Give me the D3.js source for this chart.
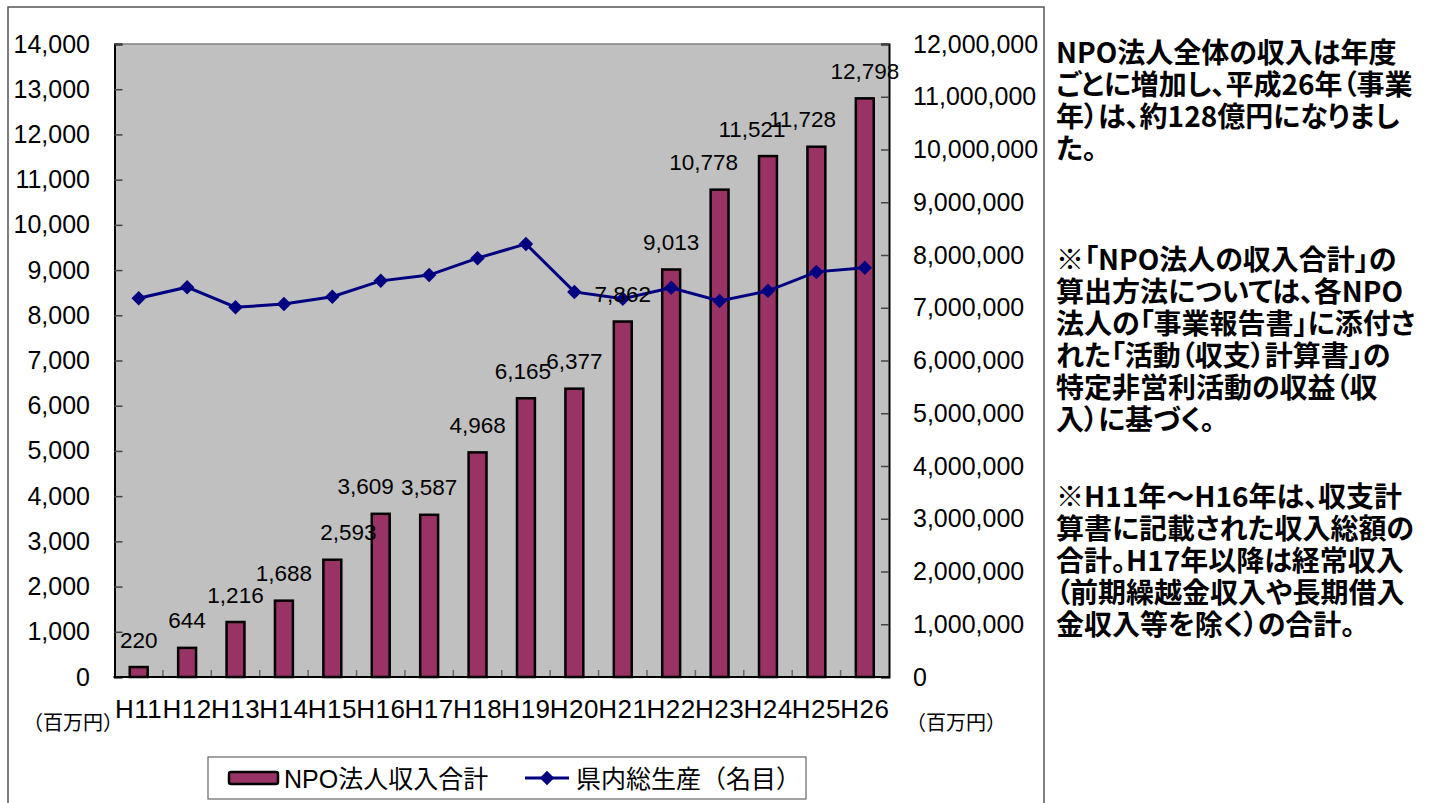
<!DOCTYPE html>
<html>
<head>
<meta charset="utf-8">
<script src="https://cdn.jsdelivr.net/npm/d3@7"></script>
<style>
  body { margin: 0; background: #fff; }
  svg { display: block; }
  .num { font-family: "Liberation Sans", Arial, sans-serif; fill: #000; }
  .jp { font-family: "Liberation Sans", "Noto Sans CJK JP", sans-serif; fill: #000; }
  .note { font-family: "Noto Sans CJK JP", sans-serif; font-weight: bold; font-feature-settings: "palt"; fill: #000; }
</style>
</head>
<body>
<svg width="1444" height="803"></svg>
<script>
// データ
const categories = ["H11","H12","H13","H14","H15","H16","H17","H18","H19","H20","H21","H22","H23","H24","H25","H26"];
const npoIncome = [220, 644, 1216, 1688, 2593, 3609, 3587, 4968, 6165, 6377, 7862, 9013, 10778, 11521, 11728, 12798];
const gdp = [7180000, 7390000, 7010000, 7070000, 7210000, 7510000, 7620000, 7940000, 8210000, 7300000, 7170000, 7380000, 7130000, 7320000, 7680000, 7760000];
const leftTicks = [0,1000,2000,3000,4000,5000,6000,7000,8000,9000,10000,11000,12000,13000,14000];
const rightTicks = [0,1000000,2000000,3000000,4000000,5000000,6000000,7000000,8000000,9000000,10000000,11000000,12000000];
const seriesNames = ["NPO法人収入合計", "県内総生産（名目）"];
const unitLabel = "（百万円）";
const notes = [
  ["NPO法人全体の収入は年度", "ごとに増加し、平成26年（事業", "年）は、約128億円になりまし", "た。"],
  ["※「NPO法人の収入合計」の", "算出方法については、各NPO", "法人の「事業報告書」に添付さ", "れた「活動（収支）計算書」の", "特定非営利活動の収益（収", "入）に基づく。"],
  ["※H11年～H16年は、収支計", "算書に記載された収入総額の", "合計。H17年以降は経常収入", "（前期繰越金収入や長期借入", "金収入等を除く）の合計。"]
];
const noteTops = [63, 270, 507];
// ラベルの手動ずらし（元図に合わせる）
const labelShift = [0, 0, 0, 0, 16, -15, 0, 0, -3, 0, 0, 0, -16, -16, -14, 0];

const barColor = "#993366", lineColor = "#000080";
const svg = d3.select("svg");

// 外枠
svg.append("path")
  .attr("d", "M8,810V7H1044V810")
  .attr("fill", "none").attr("stroke", "#555").attr("stroke-width", 1.5);

// プロット領域
const plot = {left: 114.5, right: 889, top: 44, bottom: 677};
const x = d3.scaleBand().domain(categories).range([plot.left, plot.right]).padding(0);
const y = d3.scaleLinear().domain([0, 14000]).range([plot.bottom, plot.top]);
const y2 = d3.scaleLinear().domain([0, 12000000]).range([plot.bottom, plot.top]);

svg.append("rect")
  .attr("x", plot.left).attr("y", plot.top)
  .attr("width", plot.right - plot.left).attr("height", plot.bottom - plot.top)
  .attr("fill", "#c0c0c0");
svg.append("line")
  .attr("x1", plot.left).attr("x2", plot.right).attr("y1", plot.top).attr("y2", plot.top)
  .attr("stroke", "#808080").attr("stroke-width", 1.5);

// 左軸
const gl = svg.append("g").attr("transform", `translate(${plot.left},0)`)
  .call(d3.axisLeft(y).tickValues(leftTicks).tickSize(-8).tickPadding(24.5).tickFormat(d3.format(",")));
// 右軸
const gr = svg.append("g").attr("transform", `translate(${plot.right},0)`)
  .call(d3.axisRight(y2).tickValues(rightTicks).tickSize(-8).tickPadding(24).tickFormat(d3.format(",")));
[gl, gr].forEach(g => {
  g.select(".domain").attr("stroke", "#000").attr("stroke-width", 2);
  g.selectAll(".tick line").attr("stroke", "#444").attr("stroke-width", 1.5);
  g.selectAll(".tick text").attr("class", "num").style("font-size", "25px").attr("fill", "#000");
});

// 棒
const barW = x.bandwidth() * 0.37;
svg.append("g").selectAll("rect")
  .data(npoIncome)
  .join("rect")
  .attr("x", (d, i) => x(categories[i]) + (x.bandwidth() - barW) / 2)
  .attr("y", d => y(d))
  .attr("width", barW)
  .attr("height", d => y(0) - y(d))
  .attr("fill", barColor)
  .attr("stroke", "#000").attr("stroke-width", 2.5);

// 下軸
const gb = svg.append("g").attr("transform", `translate(0,${plot.bottom})`)
  .call(d3.axisBottom(x).tickSize(0).tickPadding(23));
gb.select(".domain").remove();
gb.selectAll(".tick text").attr("class", "num").style("font-size", "26px")
  .style("letter-spacing", "0.5px").attr("fill", "#000");
// 区切り目盛
svg.append("g").selectAll("line")
  .data(categories.slice(1))
  .join("line")
  .attr("x1", d => x(d)).attr("x2", d => x(d))
  .attr("y1", plot.bottom).attr("y2", plot.bottom - 7)
  .attr("stroke", "#666").attr("stroke-width", 1.5);
svg.append("line")
  .attr("x1", plot.left - 1).attr("x2", plot.right + 1).attr("y1", plot.bottom).attr("y2", plot.bottom)
  .attr("stroke", "#000").attr("stroke-width", 2);

// 折れ線
const cx = c => x(c) + x.bandwidth() / 2;
svg.append("path")
  .datum(gdp)
  .attr("d", d3.line().x((d, i) => cx(categories[i])).y(d => y2(d)))
  .attr("fill", "none").attr("stroke", lineColor).attr("stroke-width", 3);
const diamond = d3.symbol(d3.symbolSquare, 105);
svg.append("g").selectAll("path")
  .data(gdp)
  .join("path")
  .attr("d", diamond)
  .attr("transform", (d, i) => `translate(${cx(categories[i])},${y2(d)}) rotate(45)`)
  .attr("fill", lineColor);

// データラベル
svg.append("g").selectAll("text")
  .data(npoIncome)
  .join("text")
  .attr("class", "num")
  .attr("x", (d, i) => cx(categories[i]) + labelShift[i])
  .attr("y", d => y(d) - 19.5)
  .attr("text-anchor", "middle")
  .style("font-size", "22.5px")
  .text(d3.format(","));

// 単位
[73, 956].forEach(ux => {
  svg.append("text").attr("class", "jp")
    .attr("x", ux).attr("y", 730).attr("text-anchor", "middle")
    .style("font-size", "20px").text(unitLabel);
});

// 凡例
const lg = svg.append("g");
lg.append("rect").attr("x", 208).attr("y", 757).attr("width", 598).attr("height", 42)
  .attr("fill", "#fff").attr("stroke", "#666").attr("stroke-width", 1.2);
lg.append("rect").attr("x", 229).attr("y", 772).attr("width", 49).attr("height", 12).attr("rx", 2)
  .attr("fill", barColor).attr("stroke", "#000").attr("stroke-width", 2.5);
lg.append("text").attr("class", "jp").attr("x", 284).attr("y", 788)
  .style("font-size", "25px").text(seriesNames[0]);
lg.append("line").attr("x1", 525).attr("x2", 569).attr("y1", 778).attr("y2", 778)
  .attr("stroke", lineColor).attr("stroke-width", 3);
lg.append("path").attr("d", diamond).attr("transform", "translate(547,778) rotate(45)").attr("fill", lineColor);
lg.append("text").attr("class", "jp").attr("x", 576).attr("y", 788)
  .style("font-size", "25px").text(seriesNames[1]);

// 右側の説明文
notes.forEach((para, p) => {
  svg.append("g").selectAll("text")
    .data(para)
    .join("text")
    .attr("class", "note")
    .attr("x", 1056)
    .attr("y", (d, i) => noteTops[p] + i * 32)
    .style("font-size", "28px")
    .text(d => d);
});
</script>
</body>
</html>
